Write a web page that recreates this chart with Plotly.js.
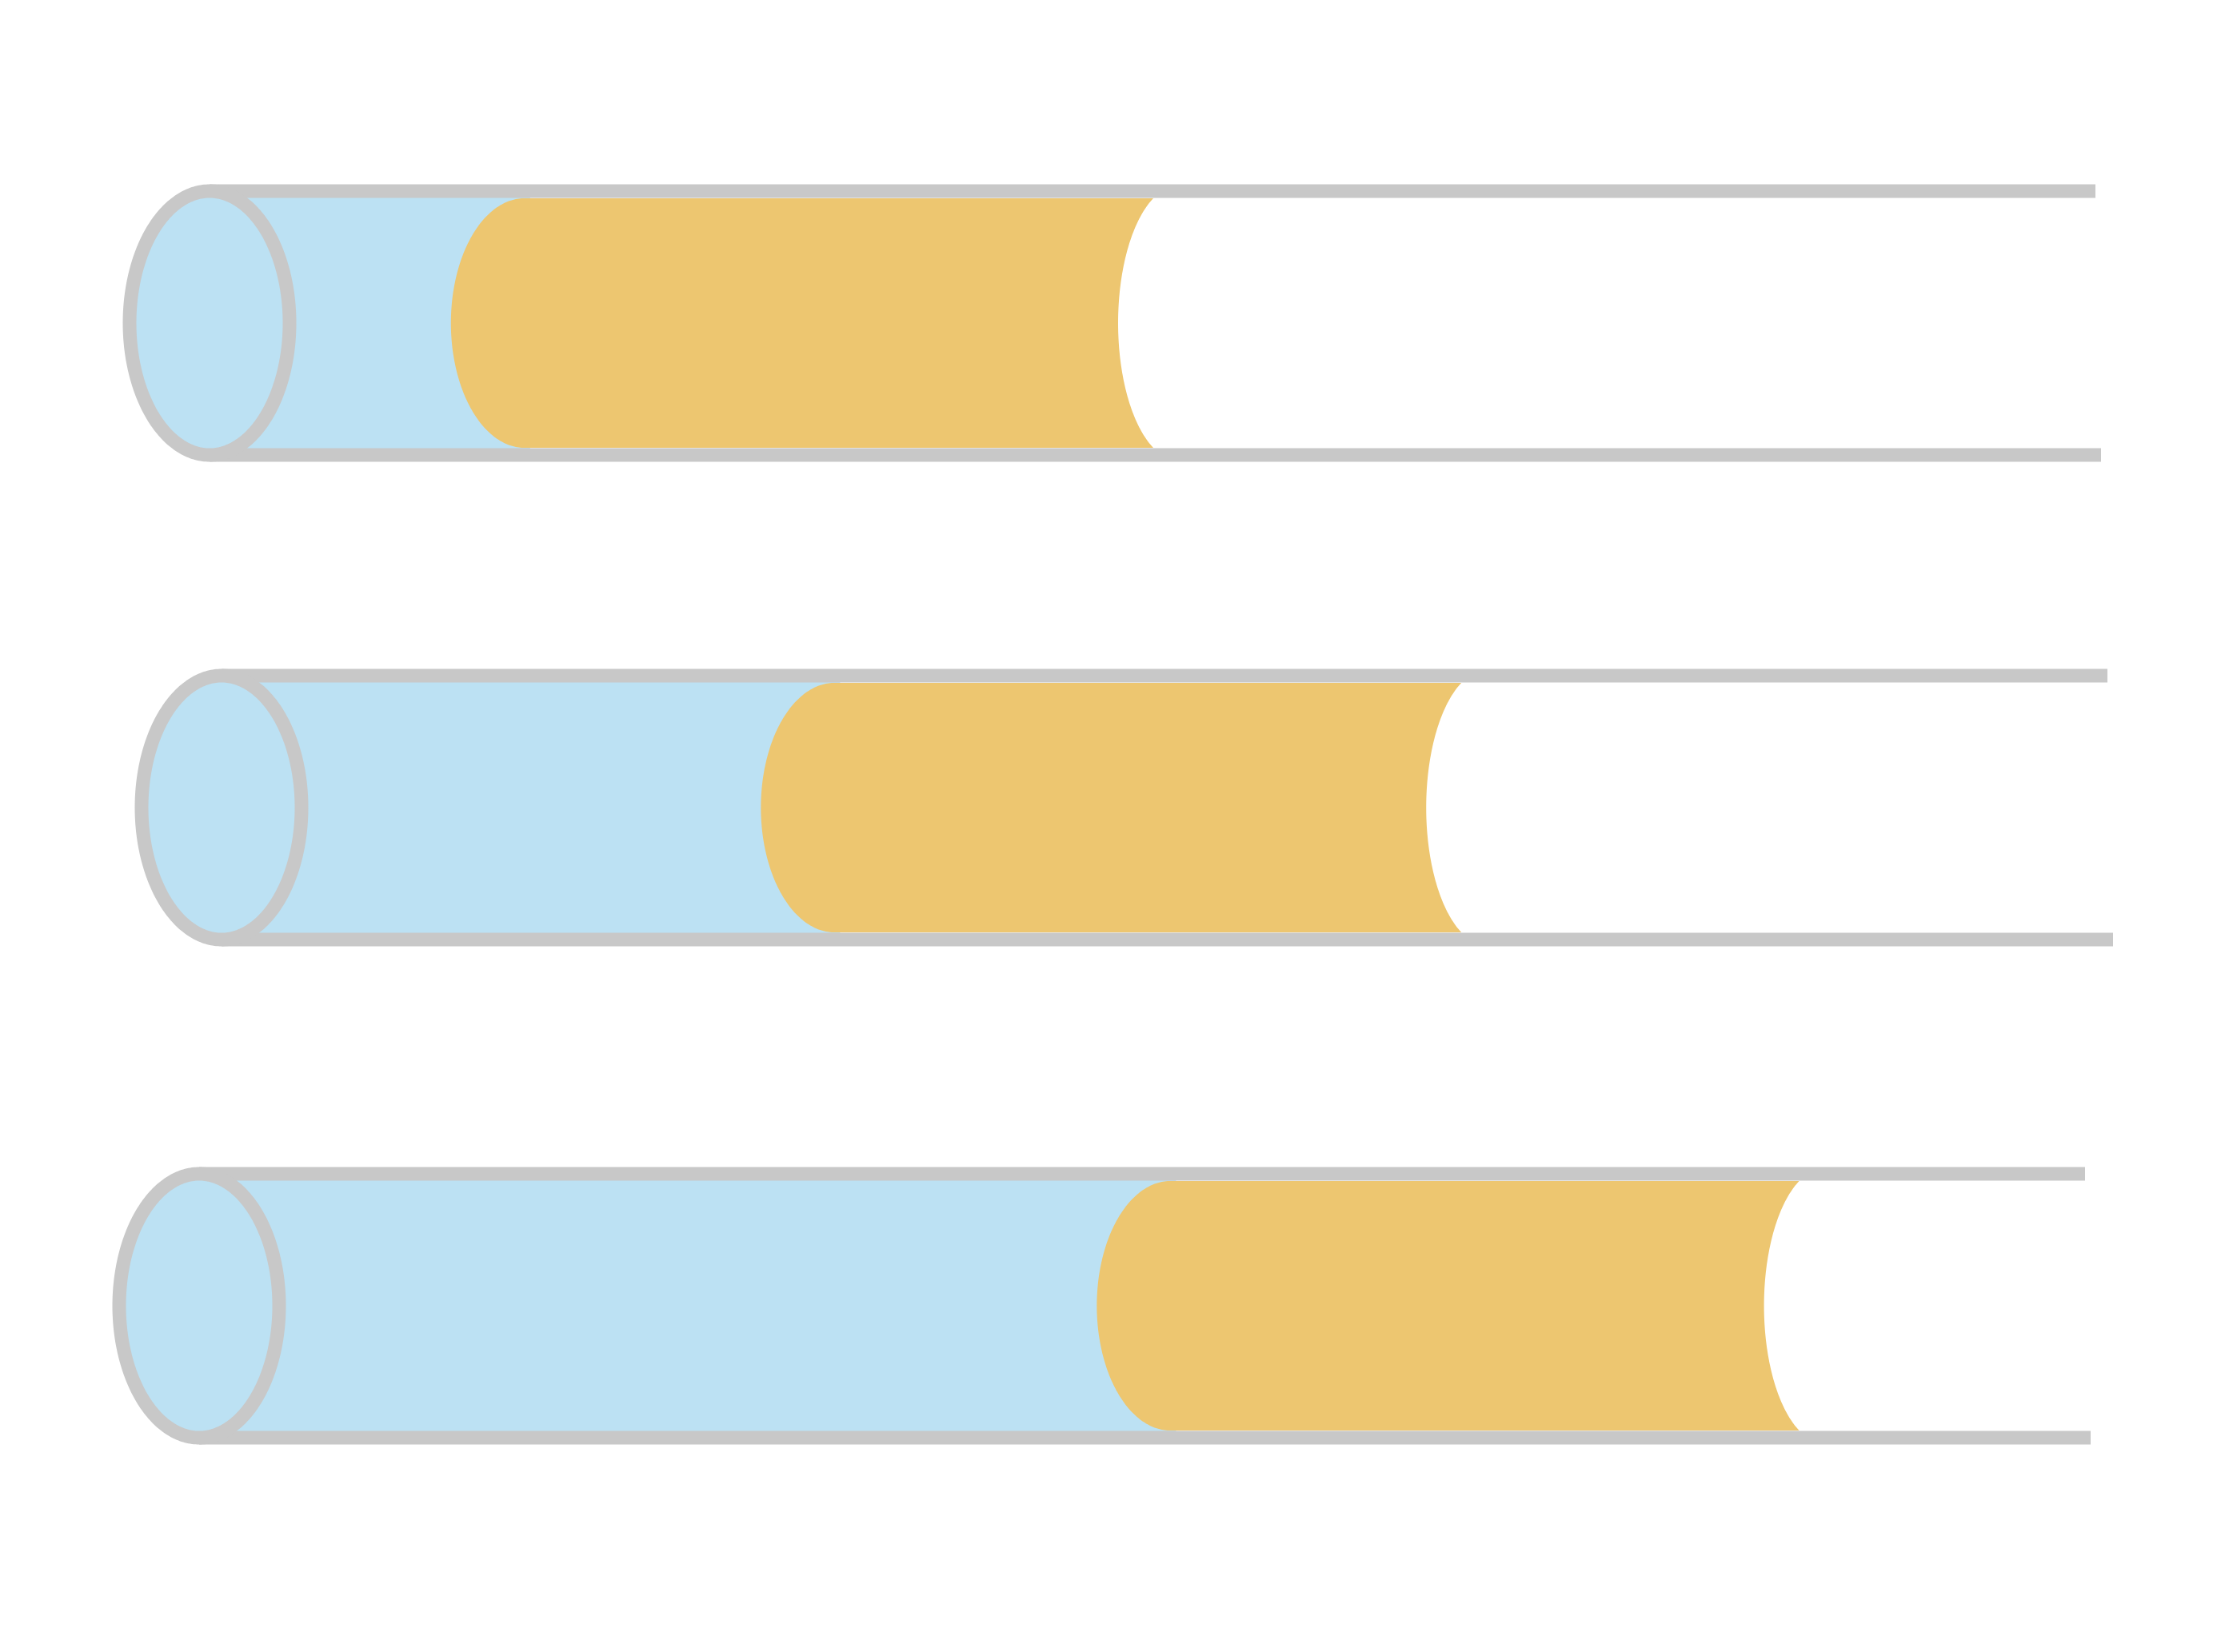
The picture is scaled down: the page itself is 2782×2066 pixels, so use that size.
<!DOCTYPE html>
<html>
<head>
<meta charset="utf-8">
<script src="https://cdn.plot.ly/plotly-3.0.1.min.js"></script>
<style>
html,body{margin:0;padding:0;background:#ffffff;}
#chart{width:2782px;height:2066px;}
</style>
</head>
<body>
<div id="chart"></div>
<script>
// ---------- data (percent of tube length) ----------
const categories  = ['Row 1', 'Row 2', 'Row 3'];
const orangeStart = [16.7, 32.5, 51.5];   // where the orange segment begins
const orangeEnd   = [51.4, 67.1, 86.2];   // where the orange segment ends
const tubeLength  = [100, 100, 100];

// ---------- layout / style constants ----------
const W = 2782, H = 2066;
const pxPerUnit = 23.58;          // px per percent along x
const rowX0 = [262, 277, 249];    // px: centre of the end cap for each row
const rowY0 = [404, 1010, 1633];  // px: vertical centre of each tube
const R = 165;                    // tube radius in px (y unit)
const capRx = 100 / pxPerUnit;    // cap ellipse x-radius in x units
const orRx = 92 / pxPerUnit;      // orange left-end x-radius
const orRy = 156 / R;             // orange half-height
const cutRx = 76 / pxPerUnit, cutRy = 172 / R;
const lineW = 17;
const bottomExtra = 7 / pxPerUnit;
const BLUE = '#bce1f3', ORANGE = '#edc670', GREY = '#c8c8c8';

const traces = [];
const layout = {
  width: W, height: H,
  margin: {l: 0, r: 0, t: 0, b: 0, pad: 0},
  paper_bgcolor: '#ffffff',
  plot_bgcolor: 'rgba(0,0,0,0)',
  showlegend: false,
  hovermode: false
};

const N = 160;
categories.forEach((cat, r) => {
  const s = r === 0 ? '' : String(r + 1);
  const xa = 'x' + s, ya = 'y' + s;
  const x0 = rowX0[r], y0 = rowY0[r];
  const xaxis = {
    domain: [0, 1], range: [-x0 / pxPerUnit, (W - x0) / pxPerUnit],
    visible: false, fixedrange: true, anchor: ya
  };
  const yaxis = {
    domain: [0, 1], range: [(y0 - H) / R, y0 / R],
    visible: false, fixedrange: true, anchor: xa
  };
  if (r > 0) { xaxis.overlaying = 'x'; yaxis.overlaying = 'y'; }
  layout['xaxis' + s] = xaxis;
  layout['yaxis' + s] = yaxis;

  const st = orangeStart[r], en = orangeEnd[r], L = tubeLength[r];

  // blue body from cap to orange start
  traces.push({
    type: 'scatter', mode: 'lines', xaxis: xa, yaxis: ya, name: cat,
    x: [0, st + 0.3, st + 0.3, 0], y: [-1, -1, 1, 1],
    fill: 'toself', fillcolor: BLUE, line: {width: 0, simplify: false}, hoverinfo: 'skip'
  });

  // orange segment: left half-ellipse + concave right end
  const ox = [], oy = [];
  for (let i = 0; i <= N; i++) {           // left half ellipse, bottom -> top via left
    const t = -Math.PI / 2 + Math.PI * i / N;
    ox.push(st - orRx * Math.cos(t)); oy.push(orRy * Math.sin(t));
  }
  for (let i = 0; i <= N; i++) {           // concave cut, top -> bottom
    const y = orRy - 2 * orRy * i / N;
    ox.push(en - cutRx * Math.sqrt(Math.max(0, 1 - (y / cutRy) ** 2))); oy.push(y);
  }
  traces.push({
    type: 'scatter', mode: 'lines', xaxis: xa, yaxis: ya, name: cat,
    x: ox, y: oy, fill: 'toself', fillcolor: ORANGE,
    line: {width: 0, simplify: false}, hoverinfo: 'skip'
  });

  // grey tube lines
  traces.push({
    type: 'scatter', mode: 'lines', xaxis: xa, yaxis: ya,
    x: [0, L], y: [1, 1], line: {color: GREY, width: lineW, simplify: false}, hoverinfo: 'skip'
  });
  traces.push({
    type: 'scatter', mode: 'lines', xaxis: xa, yaxis: ya,
    x: [0, L + bottomExtra], y: [-1, -1], line: {color: GREY, width: lineW, simplify: false}, hoverinfo: 'skip'
  });

  // end cap ellipse
  const cx = [], cy = [];
  for (let i = 0; i <= 2 * N; i++) {
    const t = 2 * Math.PI * i / (2 * N);
    cx.push(capRx * Math.cos(t)); cy.push(Math.sin(t));
  }
  traces.push({
    type: 'scatter', mode: 'lines', xaxis: xa, yaxis: ya,
    x: cx, y: cy, fill: 'toself', fillcolor: BLUE,
    line: {color: GREY, width: lineW, simplify: false}, hoverinfo: 'skip'
  });
});

Plotly.newPlot('chart', traces, layout, {staticPlot: true, displayModeBar: false});
</script>
</body>
</html>
